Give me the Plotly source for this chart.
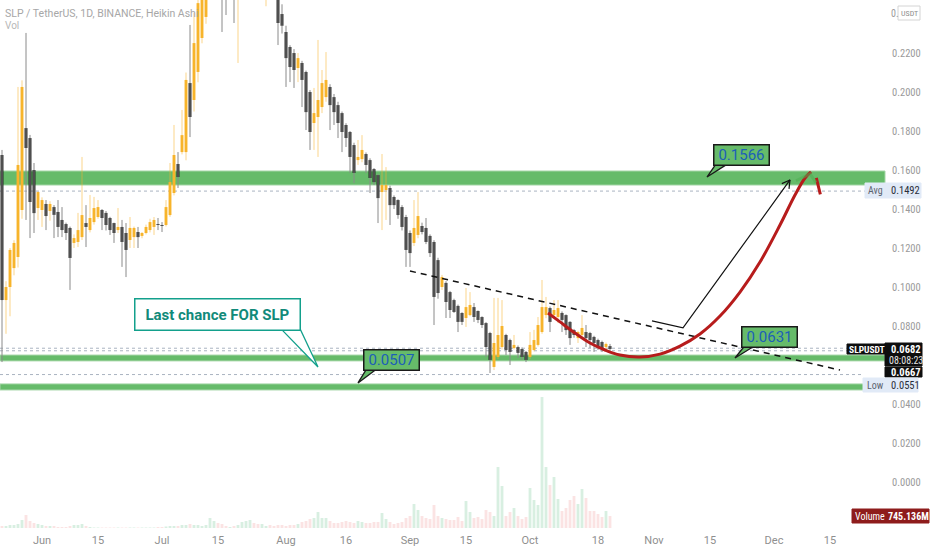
import numpy as np
import pandas as pd
import plotly.graph_objects as go

# ---------------- data (Heikin Ashi daily candles, SLP/USDT) ----------------
START = "2021-05-22"
open_ = [.1677,.0933,.1000,.1097,.1154,.1395,.1815,.1764,.1600,.1405,
         .1395,.1426,.1390,.1410,.1385,.1344,.1323,.1303,.1226,.1231,
         .1256,.1328,.1292,.1333,.1359,.1395,.1380,.1354,.1328,.1292,
         .1308,.1277,.1241,.1256,.1282,.1262,.1277,.1292,.1308,.1323,
         .1318,.1318,.1369,.1482,.1631,.1692,.1692,.2046,.1959,.2103,
         .2277,.2385,
         .2700,.2950,.3300,.3150,.3000,.2800,.2900,.2700,.2800,.2900,
         .3000,.3150,.3050,.2950,.3000,.3050,.2950,
         .2550,.2400,.2308,.2231,.2200,.2123,.2149,.2103,.2000,.1841,
         .1872,.1923,.1974,.2026,.1974,.1933,.1892,.1831,.1795,.1728,
         .1651,.1656,.1682,.1651,.1605,.1574,.1487,.1497,.1508,.1462,
         .1446,.1410,.1359,.1277,.1226,.1267,.1313,.1303,.1262,.1231,
         .1138,.1000,.1021,.0974,.0933,.0903,.0867,.0841,.0856,.0897,
         .0877,.0846,.0815,.0764,.0590,.0641,.0692,.0754,.0728,.0687,
         .0692,.0682,.0667,.0641,.0677,.0703,.0769,.0856,.0892,.0856,
         .0846,.0867,.0856,.0821,.0779,.0738,.0754,.0769,.0764,.0744,
         .0728,.0718,.0692,.0697]
high = [.1703,.1030,.1200,.1240,.2026,.2060,.2303,.1780,.1636,.1490,
        .1460,.1446,.1440,.1420,.1446,.1410,.1330,.1310,.1270,.1380,
        .1667,.1420,.1472,.1462,.1446,.1400,.1390,.1360,.1330,.1405,
        .1344,.1328,.1359,.1310,.1308,.1282,.1320,.1350,.1359,.1354,
        .1333,.1446,.1636,.1831,.1692,.1908,.2100,.2344,.2405,.2500,
        .2800,.3300,
        .3600,.3600,.3450,.3200,.3050,.3200,.3000,.3000,.3150,.3300,
        .3400,.3250,.3100,.3400,.3200,.3100,.3000,
        .2600,.2450,.2340,.2240,.2220,.2200,.2160,.2110,.2010,.2021,
        .2267,.2113,.2205,.2040,.1990,.1950,.1900,.1840,.1800,.1740,
        .1754,.1779,.1690,.1660,.1610,.1580,.1682,.1615,.1520,.1470,
        .1450,.1420,.1370,.1290,.1446,.1487,.1330,.1354,.1270,.1240,
        .1150,.1062,.1030,.0980,.0940,.0910,.0870,.0995,.0974,.0918,
        .0880,.0850,.0820,.0770,.0944,.0944,.0933,.0760,.0735,.0754,
        .0700,.0690,.0672,.0769,.0780,.0846,.1036,.0949,.0900,.0933,
        .0933,.0875,.0860,.0825,.0785,.0775,.0856,.0805,.0770,.0750,
        .0735,.0725,.0715,.0708]
low = [.0615,.0760,.0850,.1060,.1100,.1350,.1344,.1251,.1277,.1344,
       .1308,.1292,.1340,.1251,.1256,.1256,.1241,.0985,.1200,.1205,
       .1241,.1205,.1280,.1320,.1350,.1292,.1290,.1267,.1226,.1277,
       .1103,.1051,.1200,.1200,.1200,.1250,.1270,.1280,.1267,.1292,
       .1282,.1310,.1360,.1470,.1508,.1680,.1650,.1769,.1900,.2050,
       .2250,.2350,
       .2600,.2800,.2600,.2308,.2395,.2550,.2354,.2149,.2550,.2700,
       .2800,.2750,.2650,.2700,.2440,.2600,.2500,
       .2241,.2300,.2026,.2051,.2021,.2051,.1923,.1805,.1703,.1703,
       .1667,.1892,.1950,.1805,.1831,.1764,.1692,.1718,.1585,.1533,
       .1626,.1640,.1585,.1482,.1523,.1328,.1292,.1344,.1318,.1400,
       .1350,.1290,.1103,.1103,.1210,.1250,.1270,.1220,.1154,.0805,
       .0940,.0985,.0841,.0841,.0867,.0769,.0805,.0795,.0850,.0821,
       .0815,.0790,.0641,.0559,.0574,.0630,.0680,.0651,.0600,.0680,
       .0636,.0626,.0615,.0630,.0670,.0695,.0760,.0840,.0769,.0840,
       .0815,.0769,.0754,.0703,.0740,.0713,.0745,.0692,.0687,.0667,
       .0677,.0667,.0667,.0662]
close = [.0933,.1000,.1190,.1226,.1626,.2026,.1713,.1436,.1379,.1487,
         .1446,.1364,.1426,.1370,.1308,.1292,.1277,.1149,.1251,.1292,
         .1369,.1308,.1354,.1405,.1410,.1354,.1318,.1292,.1277,.1308,
         .1231,.1190,.1303,.1303,.1256,.1277,.1308,.1333,.1344,.1318,
         .1313,.1410,.1538,.1677,.1564,.1779,.2062,.1872,.2251,.2456,
         .2700,.3000,
         .3200,.3300,.3000,.2850,.2750,.2950,.2700,.2850,.3000,.3100,
         .3200,.3000,.2900,.3050,.3100,.2900,.2700,
         .2354,.2340,.2174,.2128,.2113,.2174,.2062,.1897,.1795,.1892,
         .1959,.2046,.2062,.1933,.1897,.1841,.1795,.1764,.1667,.1585,
         .1667,.1703,.1626,.1559,.1538,.1456,.1523,.1523,.1420,.1420,
         .1369,.1308,.1190,.1174,.1303,.1364,.1282,.1231,.1174,.0949,
         .0969,.1051,.0923,.0882,.0872,.0821,.0821,.0897,.0908,.0846,
         .0831,.0805,.0692,.0626,.0713,.0754,.0800,.0677,.0667,.0703,
         .0662,.0641,.0626,.0703,.0728,.0805,.0897,.0897,.0821,.0882,
         .0892,.0831,.0779,.0738,.0754,.0769,.0790,.0738,.0728,.0713,
         .0692,.0687,.0708,.0687]
volume_m = [124,124,186,186,248,496,806,434,310,248,186,124,124,124,62,62,62,124,186,186,
            248,124,62,31,31,31,31,31,31,31,31,31,31,31,31,31,31,31,31,62,
            62,93,124,124,124,186,186,248,186,186,124,186,620,434,310,248,124,62,124,186,
            372,434,496,310,248,248,124,186,124,186,186,124,186,186,248,372,434,558,620,992,
            620,620,434,310,310,372,434,372,310,434,372,310,310,372,372,
            930,558,372,248,310,372,620,744,1488,1116,744,620,558,1426,744,620,558,496,496,682,
            434,1674,992,620,682,558,1116,992,744,3782,2604,744,992,1240,744,558,682,2480,1736,1426,
            8122,3782,2666,3162,1798,1054,1240,1736,1984,1488,2418,1860,1054,1054,868,682,1054,745]

x_tick_dates = ["2021-06-01", "2021-06-15", "2021-07-01", "2021-07-15", "2021-08-01",
                "2021-08-16", "2021-09-01", "2021-09-15", "2021-10-01", "2021-10-18",
                "2021-11-01", "2021-11-15", "2021-12-01", "2021-12-15"]
x_tick_text = ["Jun", "15", "Jul", "15", "Aug", "16", "Sep", "15", "Oct", "18",
               "Nov", "15", "Dec", "15"]
y_tick_vals = [0.0, 0.02, 0.04, 0.08, 0.10, 0.12, 0.14, 0.16, 0.18, 0.20, 0.22]

# ---------------- layout constants ----------------
W, H = 932, 550
ML, MR, MT, MB = 0, 45, 0, 22
PW, PH = W - ML - MR, H - MT - MB
OCT1 = pd.Timestamp("2021-10-01")
def T(d):
    return OCT1 + pd.Timedelta(hours=round(d * 24))
X0, X1 = T(-132.5), T(89.25)
Y0, Y1 = -0.0236, 0.2472
PX_PER_DAY = PW / ((X1 - X0) / pd.Timedelta(days=1))
PX_PER_PRICE = PH / (Y1 - Y0)
NARROW = "Liberation Sans Narrow, Roboto Condensed, Roboto"

def px(x):   # paper coords helpers for overlay UI labels
    return x / PW
def py(y):
    return 1 - y / PH

dates = pd.date_range(START, periods=len(open_), freq="D")
o = np.array(open_); h = np.array(high); l = np.array(low); c = np.array(close)
bull = c >= o

YEL = "#f7b52c"
YEL_WICK = "rgba(247,181,44,0.55)"
BLK = "#151515"
BLK_WICK = "#8a8a8a"

fig = go.Figure()

# volume (overlay scale)
vcol = np.where(bull, "rgba(38,166,91,0.18)", "rgba(230,90,90,0.17)")
fig.add_trace(go.Bar(x=dates, y=volume_m, marker_color=list(vcol), marker_line_width=0,
                     width=0.7 * 86400000, yaxis="y2", hoverinfo="skip"))

def wick_xy(mask):
    xs, ys = [], []
    for d, hi, lo, m in zip(dates, h, l, mask):
        if m:
            xs += [d, d, None]; ys += [hi, lo, None]
    return xs, ys

for mask, col in ((bull, YEL_WICK), (~bull, BLK_WICK)):
    xs, ys = wick_xy(mask)
    fig.add_trace(go.Scatter(x=xs, y=ys, mode="lines", line=dict(color=col, width=1),
                             hoverinfo="skip"))

min_body = 0.0005
for mask, col in ((bull, YEL), (~bull, BLK)):
    base = np.minimum(o, c)[mask]
    hgt = np.maximum(np.abs(c - o)[mask], min_body)
    fig.add_trace(go.Bar(x=dates[mask], y=hgt, base=base, marker_color=col,
                         marker_line_width=0, width=0.72 * 86400000, hoverinfo="skip"))

# ---------------- drawings ----------------
GREEN = "#66bb6a"
shapes = []
for (p0, p1, dend) in ((0.1523, 0.1595, 88.75), (0.0621, 0.0651, 88.75), (0.0472, 0.0503, 83.75)):
    shapes.append(dict(type="rect", xref="x", yref="y", x0=X0, x1=T(dend), y0=p0, y1=p1,
                       fillcolor=GREEN, line=dict(color="#a5d6a7", width=1), layer="below"))
# dotted price lines
for (p, dend) in ((0.1492, 83.75), (0.0551, 83.25), (0.0686, 79.25), (0.0673, 88.75)):
    shapes.append(dict(type="line", xref="x", yref="y", x0=X0, x1=T(dend), y0=p, y1=p,
                       line=dict(color="#a9b3c1", width=1, dash="dot"), layer="below"))

# dashed trend line
tl_days = [-30, 77.5]
tl_price = [0.1082, 0.0574]
fig.add_trace(go.Scatter(x=[T(d) for d in tl_days], y=tl_price, mode="lines",
                         line=dict(color="#111111", width=1.5, dash="6px,5px"), hoverinfo="skip"))

# black path arrow
ar_days = [30.5, 38.25, 65]
ar_price = [0.0826, 0.0790, 0.1549]
fig.add_trace(go.Scatter(x=[T(d) for d in ar_days], y=ar_price, mode="lines",
                         line=dict(color="#111111", width=1.2), hoverinfo="skip"))
def arrow_head(d_from, p_from, d_to, p_to, length=9, ang=30):
    dx = (d_to - d_from) * PX_PER_DAY
    dy = (p_to - p_from) * PX_PER_PRICE
    n = np.hypot(dx, dy); bx, by = -dx / n, -dy / n
    pts = []
    for a in (ang, -ang):
        r = np.radians(a)
        rx = bx * np.cos(r) - by * np.sin(r); ry = bx * np.sin(r) + by * np.cos(r)
        pts.append((d_to + rx * length / PX_PER_DAY, p_to + ry * length / PX_PER_PRICE))
    return [T(pts[0][0]), T(d_to), T(pts[1][0])], [pts[0][1], p_to, pts[1][1]]
hx, hy = arrow_head(ar_days[1], ar_price[1], ar_days[2], ar_price[2])
fig.add_trace(go.Scatter(x=hx, y=hy, mode="lines", line=dict(color="#111111", width=1.2),
                         hoverinfo="skip"))

# red curve
red_days = [4.5, 7.5, 11.25, 15, 18.75, 22.5, 27.5, 32.5, 37.5, 42.5, 47.5, 52.5, 57.5,
            62.5, 66.25, 68.75, 70.25]
red_price = [0.0867, 0.0821, 0.0764, 0.0713, 0.0677, 0.0651, 0.0641, 0.0656, 0.0697,
             0.0759, 0.0851, 0.0974, 0.1128, 0.1318, 0.1472, 0.1559, 0.1590]
fig.add_trace(go.Scatter(x=[T(d) for d in red_days], y=red_price, mode="lines",
                         line=dict(color="#b71c1c", width=3, shape="spline", smoothing=1),
                         hoverinfo="skip"))
fig.add_trace(go.Scatter(x=[T(71.6), T(72.6)], y=[0.1560, 0.1475], mode="lines",
                         line=dict(color="#b71c1c", width=3), hoverinfo="skip"))
# faded green chevron at the top of the curve
fig.add_trace(go.Scatter(x=[T(66.5), T(70.0), T(71.5)], y=[0.1545, 0.1580, 0.1535], mode="lines",
                         line=dict(color="rgba(76,175,80,0.55)", width=3), hoverinfo="skip"))

# callout pointers (filled wedges)
def wedge(days, prices, fill, line):
    fig.add_trace(go.Scatter(x=[T(d) for d in days] + [T(days[0])], y=prices + [prices[0]],
                             mode="lines", fill="toself", fillcolor=fill,
                             line=dict(color=line, width=1.3), hoverinfo="skip"))
wedge([46.3, 48.9, 44.25], [0.1625, 0.1625, 0.1564], GREEN, "#1a1a1a")
wedge([53.6, 56.0, 51.25], [0.0696, 0.0696, 0.0636], GREEN, "#1a1a1a")
wedge([-40.9, -38.4, -43.0], [0.0578, 0.0578, 0.0508], GREEN, "#1a1a1a")
wedge([-62.0, -57.6, -53.0], [0.0780, 0.0790, 0.0590], "white", "#13a08c")

annotations = []
def callout(d, p, text, w, hgt, bg, border, fc, size, bold=False):
    annotations.append(dict(x=T(d), y=p, xref="x", yref="y", showarrow=False,
                            text=f"<b>{text}</b>" if bold else text,
                            font=dict(family="Roboto", size=size, color=fc),
                            bgcolor=bg, bordercolor=border, borderwidth=1.5, borderpad=2,
                            width=w, height=hgt, align="center", valign="middle"))
callout(52.9, 0.1677, "0.1566", 50, 15, GREEN, "#1a1a1a", "#1c5fb8", 15)
callout(59.9, 0.0746, "0.0631", 50, 15, GREEN, "#1a1a1a", "#1c5fb8", 15)
callout(-34.6, 0.0628, "0.0507", 50, 15, GREEN, "#1a1a1a", "#1c5fb8", 15)
callout(-78.1, 0.0859, "Last chance FOR SLP", 160, 26, "white", "#13a08c", "#118a7a", 15, True)

# ---------------- overlay UI (header, price tags) ----------------
def label(x, y, text, size=10, color="#555", anchor="left", bold=False, family=NARROW):
    annotations.append(dict(x=px(x), y=py(y), xref="paper", yref="paper", showarrow=False,
                            xanchor=anchor, yanchor="middle", borderpad=0,
                            text=f"<b>{text}</b>" if bold else text,
                            font=dict(family=family, size=size, color=color)))
def box(x0, y0, x1, y1, fill, line=None):
    shapes.append(dict(type="rect", xref="paper", yref="paper", x0=px(x0), x1=px(x1),
                       y0=py(y1), y1=py(y0), fillcolor=fill,
                       line=dict(color=line or fill, width=1), layer="above"))

label(4, 13, "SLP / TetherUS, 1D, BINANCE, Heikin Ashi", 10.5, "#a7a7a7", family="Roboto")
label(4, 26, "Vol", 10, "#b8b8b8", family="Roboto")

label(890, 14, "0.", 10, "#9a9a9a")
box(898, 6, 920, 20, "white", "#d4d4d4"); label(909, 13, "USDT", 8, "#8d8d8d", anchor="center")
box(865, 183, 921, 198, "#e1eaf7"); label(867, 190.5, "Avg", 10, "#5d6470")
label(890, 190.5, "0.1492", 10.5, "#2a2e39")
box(847, 344, 885, 354, "#0e0e0e"); label(848, 349, "SLPUSDT", 9.5, "white", bold=True)
box(885, 343, 922, 366, "#0e0e0e"); label(890, 349, "0.0682", 10.5, "white", bold=True)
label(888, 360, "08:08:23", 10, "#e6e6e6")
box(885, 367, 922, 377, "#0e0e0e"); label(890, 372, "0.0667", 10.5, "white", bold=True)
box(863, 378, 918, 392, "#e1eaf7"); label(866, 385, "Low", 10, "#5d6470")
label(890, 385, "0.0551", 10.5, "#2a2e39")
box(852, 509, 929, 523, "#8e1c1c"); label(854, 516, "Volume", 10, "white")
label(887, 516, "745.136M", 10, "white", bold=True)

fig.update_layout(
    width=W, height=H, margin=dict(l=ML, r=MR, t=MT, b=MB, pad=0),
    paper_bgcolor="white", plot_bgcolor="white", showlegend=False, barmode="overlay",
    xaxis=dict(type="date", range=[X0, X1], showgrid=False, zeroline=False, showline=False,
               tickvals=x_tick_dates, ticktext=x_tick_text, ticks="",
               tickfont=dict(family="Roboto", size=11, color="#8f8f8f"),
               ticklabelstandoff=4, fixedrange=True),
    yaxis=dict(range=[Y0, Y1], side="right", showgrid=False, zeroline=False, showline=False,
               tickvals=y_tick_vals, tickformat=".4f", ticks="",
               tickfont=dict(family=NARROW, size=10.5, color="#9a9a9a"),
               ticklabelstandoff=4, fixedrange=True),
    yaxis2=dict(overlaying="y", range=[0, PH * 62], visible=False, fixedrange=True),
    shapes=shapes, annotations=annotations,
)

fig.write_html("out.html", config={"displayModeBar": False},
               post_script="document.body.style.margin='0';")
